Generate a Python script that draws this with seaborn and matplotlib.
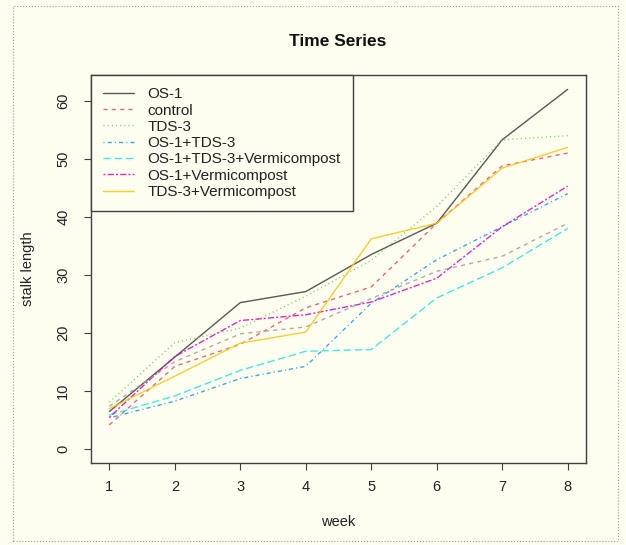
import numpy as np
import pandas as pd
import matplotlib.pyplot as plt
import seaborn as sns
from matplotlib.lines import Line2D
from matplotlib.patches import Rectangle

# values
weeks = [1, 2, 3, 4, 5, 6, 7, 8]
os1 = [6.4, 15.8, 25.2, 27.1, 33.5, 38.9, 53.3, 62.0]
control = [4.1, 14.2, 18.0, 24.3, 27.9, 38.9, 48.8, 51.0]
tds3 = [8.0, 18.3, 20.8, 26.3, 32.5, 41.8, 53.3, 54.0]
os1_tds3 = [5.3, 8.2, 12.1, 14.2, 25.1, 32.6, 38.3, 44.0]
os1_tds3_vc = [5.8, 9.1, 13.5, 16.8, 17.1, 26.0, 31.2, 38.0]
os1_vc = [5.4, 15.9, 22.1, 23.1, 25.3, 29.4, 38.3, 45.3]
tds3_vc = [6.9, 12.5, 18.2, 20.1, 36.2, 38.9, 48.4, 52.0]
extra = [7.3, 15.0, 19.8, 21.0, 25.9, 30.6, 33.2, 38.9]

names = ['OS-1', 'control', 'TDS-3', 'OS-1+TDS-3', 'OS-1+TDS-3+Vermicompost',
         'OS-1+Vermicompost', 'TDS-3+Vermicompost', 'extra']
series = [os1, control, tds3, os1_tds3, os1_tds3_vc, os1_vc, tds3_vc, extra]

# R default palette and line types
colors = ['#3c3c3c', '#DF536B', '#61D04F', '#2297E6', '#28E2E5', '#CD0BBC', '#F5C710', '#9E9E9E']
dash_styles = ['', (3, 3), (0.8, 2.2), (0.8, 2.2, 3, 2.2), (5.5, 2.5),
               (1.5, 1.5, 4.5, 1.5), '', (3, 3)]

df = pd.DataFrame({
    'week': weeks * len(names),
    'value': np.concatenate(series),
    'series': np.repeat(names, len(weeks)),
})

bg = '#FDFDF0'
sns.set_style('ticks')
plt.rcParams['font.family'] = ['Liberation Sans', 'DejaVu Sans']

fig = plt.figure(figsize=(6.26, 5.45), dpi=100, facecolor=bg)
ax = fig.add_axes([0.1454, 0.1505, 0.7907, 0.7119])
ax.set_facecolor(bg)

sns.lineplot(data=df, x='week', y='value', hue='series', style='series',
             hue_order=names, style_order=names,
             palette=dict(zip(names, colors)), dashes=dict(zip(names, dash_styles)),
             linewidth=1, alpha=0.85, legend=False, ax=ax)

ax.set_xlim(0.72, 8.28)
ax.set_ylim(-2.48, 64.48)
ax.set_xticks(weeks)
ax.set_yticks(range(0, 61, 10))
ax.tick_params(axis='both', direction='out', length=5, width=0.8, color='#404040',
               labelsize=10.5, labelcolor='#222222')
ax.tick_params(axis='x', pad=7)
ax.tick_params(axis='y', pad=10, labelrotation=90)
for lab in ax.get_yticklabels():
    lab.set_va('center')
for s in ax.spines.values():
    s.set_visible(True)
    s.set_color('#404040')
    s.set_linewidth(1)

ax.set_xlabel('week', fontsize=10.5, color='#222222')
ax.set_ylabel('stalk length', fontsize=10.5, color='#222222')
ax.xaxis.set_label_coords(0.5, -0.134)
ax.yaxis.set_label_coords(-0.113, 0.5)

fig.text(338 / 626, 1 - 42 / 545, 'Time Series', ha='center', va='center',
         fontsize=12.5, fontweight='bold', color='#111111')

# legend shows only the first seven series
handles = []
for n, c, d in zip(names[:7], colors[:7], dash_styles[:7]):
    ls = '-' if d == '' else (0, d)
    handles.append(Line2D([], [], color=c, linestyle=ls, linewidth=1, alpha=0.85))
leg = ax.legend(handles, names[:7], loc='upper left', bbox_to_anchor=(0, 1),
                borderaxespad=0, fontsize=11, frameon=True, fancybox=False,
                framealpha=1, facecolor=bg, edgecolor='#404040',
                labelspacing=0.15, handlelength=2.0, handletextpad=0.9,
                borderpad=0.8)
leg.get_frame().set_linewidth(1)
for t in leg.get_texts():
    t.set_color('#222222')

# thin dotted border around the whole picture
fig.patches.append(Rectangle((13 / 626, 4 / 545), 605 / 626, 535 / 545,
                             transform=fig.transFigure, fill=False,
                             edgecolor='#a0a0a0', linestyle=':', linewidth=0.8))

fig.savefig('out.png', dpi=100, facecolor=fig.get_facecolor())
